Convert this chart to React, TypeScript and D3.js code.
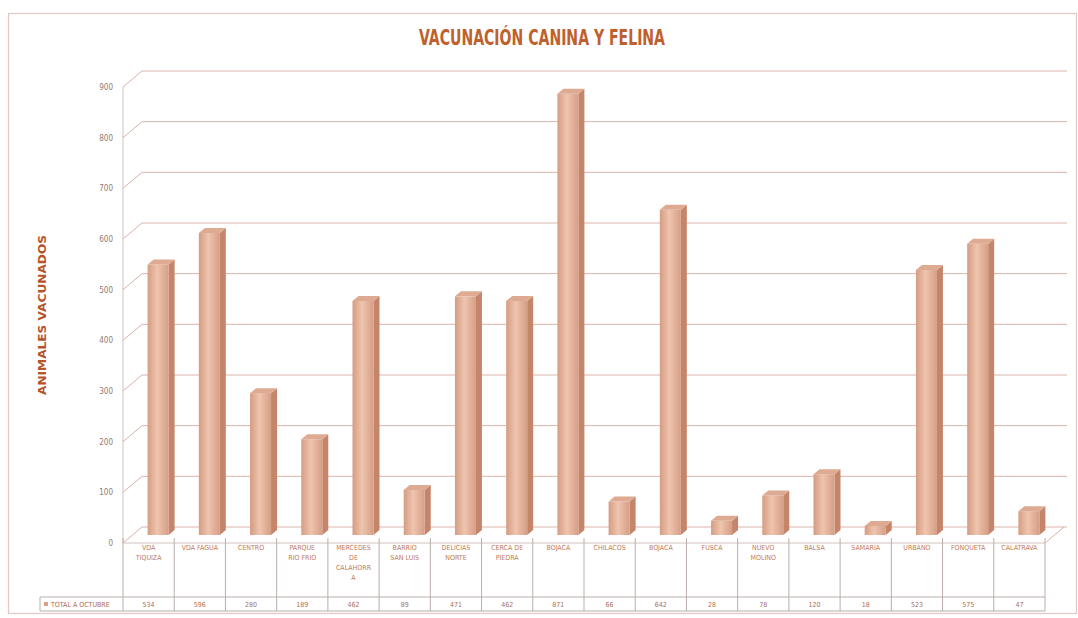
import React from "react";
import * as d3 from "d3";

const categories: string[][] = [
  ["VDA", "TIQUIZA"],
  ["VDA FAGUA"],
  ["CENTRO"],
  ["PARQUE", "RIO FRIO"],
  ["MERCEDES", "DE", "CALAHORR", "A"],
  ["BARRIO", "SAN LUIS"],
  ["DELICIAS", "NORTE"],
  ["CERCA DE", "PIEDRA"],
  ["BOJACA"],
  ["CHILACOS"],
  ["BOJACA"],
  ["FUSCA"],
  ["NUEVO", "MOLINO"],
  ["BALSA"],
  ["SAMARIA"],
  ["URBANO"],
  ["FONQUETA"],
  ["CALATRAVA"],
];
const values: number[] = [534, 596, 280, 189, 462, 89, 471, 462, 871, 66, 642, 28, 78, 120, 18, 523, 575, 47];
const yTicks: number[] = [0, 100, 200, 300, 400, 500, 600, 700, 800, 900];
const seriesName = "TOTAL A OCTUBRE";
const title = "VACUNACIÓN CANINA Y FELINA";
const yTitle = "ANIMALES VACUNADOS";

export default function App() {
  const W = 1078, H = 618;
  const left = 123, right = 1045;
  const y0 = 543, yTop = 87;
  const depth = { dx: 19, dy: -16 };
  const x = d3.scaleBand<number>().domain(values.map((_, i) => i)).range([left, right]).padding(0);
  const y = d3.scaleLinear().domain([0, 900]).range([y0, yTop]);
  const grid = "#dcb3ab";
  const textCol = "#8c7b72";
  const tableTop = 538, rowSplit = 597, tableBottom = 611, labelLeft = 40;
  const barW = 21, bd = { dx: 6, dy: -5 };
  const shift = { dx: depth.dx / 2, dy: depth.dy / 2 };
  const font = "'Liberation Sans Narrow', 'DejaVu Sans Condensed', 'Liberation Sans', sans-serif";

  return (
    <svg width={W} height={H} style={{ position: "absolute", left: 0, top: 0, display: "block", background: "#fff" }}>
      <defs>
        <linearGradient id="barFront" x1="0" x2="1" y1="0" y2="0">
          <stop offset="0" stopColor="#d59c82" />
          <stop offset="0.45" stopColor="#efc4ae" />
          <stop offset="1" stopColor="#d69e86" />
        </linearGradient>
      </defs>
      <rect x={8.5} y={13.5} width={1068} height={600} fill="#fff" stroke="#e5c6c6" strokeWidth={1.2} />
      <text x={542} y={45} textAnchor="middle" fontFamily={font} fontWeight="bold" fontSize={21} fill="#c0602c" textLength={246} lengthAdjust="spacingAndGlyphs">{title}</text>
      <text transform={`translate(46,315) rotate(-90)`} textAnchor="middle" fontFamily={font} fontWeight="bold" fontSize={10} fill="#b5542a" textLength={160} lengthAdjust="spacingAndGlyphs">{yTitle}</text>

      {yTicks.map((t) => (
        <g key={t}>
          <line x1={left + depth.dx} x2={1067} y1={y(t) + depth.dy} y2={y(t) + depth.dy} stroke={grid} strokeWidth={1} />
          <line x1={left} x2={left + depth.dx} y1={y(t)} y2={y(t) + depth.dy} stroke={grid} strokeWidth={1} />
          <text x={113} y={y(t) + 3} textAnchor="end" fontFamily={font} fontSize={8} fill={textCol}>{t}</text>
        </g>
      ))}
      <line x1={left} x2={left} y1={yTop} y2={y0} stroke="#cfc2bf" strokeWidth={1} />
      <line x1={left} x2={right} y1={y0} y2={y0} stroke="#cfc2bf" strokeWidth={1} />
      <line x1={right} x2={right + depth.dx} y1={y0} y2={y0 + depth.dy} stroke={grid} strokeWidth={1} />

      {values.map((v, i) => {
        const cx = (x(i) as number) + x.bandwidth() / 2 + shift.dx;
        const xl = cx - barW / 2, xr = cx + barW / 2;
        const yb = y(0) + shift.dy, yt = y(v) + shift.dy;
        const side = `M${xr},${yb} L${xr + bd.dx},${yb + bd.dy} L${xr + bd.dx},${yt + bd.dy} L${xr},${yt} Z`;
        const top = `M${xl},${yt} L${xl + bd.dx},${yt + bd.dy} L${xr + bd.dx},${yt + bd.dy} L${xr},${yt} Z`;
        return (
          <g key={i}>
            <path d={side} fill="#c4856a" />
            <rect x={xl} y={yt} width={barW} height={yb - yt} fill="url(#barFront)" />
            <path d={top} fill="#deaa92" />
          </g>
        );
      })}

      <line x1={left} x2={left} y1={tableTop} y2={tableBottom} stroke="#b9aeaa" />
      <line x1={labelLeft} x2={right} y1={rowSplit} y2={rowSplit} stroke="#b9aeaa" />
      <line x1={labelLeft} x2={right} y1={tableBottom} y2={tableBottom} stroke="#b9aeaa" />
      <line x1={labelLeft} x2={labelLeft} y1={rowSplit} y2={tableBottom} stroke="#b9aeaa" />
      <rect x={44} y={602} width={4} height={4} fill="#d9a088" />
      <text x={51} y={607} fontFamily={font} fontSize={7} fill="#b06848">{seriesName}</text>
      {values.map((v, i) => {
        const x0 = x(i) as number;
        const cx = x0 + x.bandwidth() / 2;
        return (
          <g key={i}>
            <line x1={x0 + x.bandwidth()} x2={x0 + x.bandwidth()} y1={tableTop} y2={tableBottom} stroke="#b9aeaa" />
            {categories[i].map((ln, j) => (
              <text key={j} x={cx} y={tableTop + 12 + j * 10} textAnchor="middle" fontFamily={font} fontSize={7} fill="#c07a58">{ln}</text>
            ))}
            <text x={cx} y={607} textAnchor="middle" fontFamily={font} fontSize={7} fill="#a8705a">{v}</text>
          </g>
        );
      })}
    </svg>
  );
}
